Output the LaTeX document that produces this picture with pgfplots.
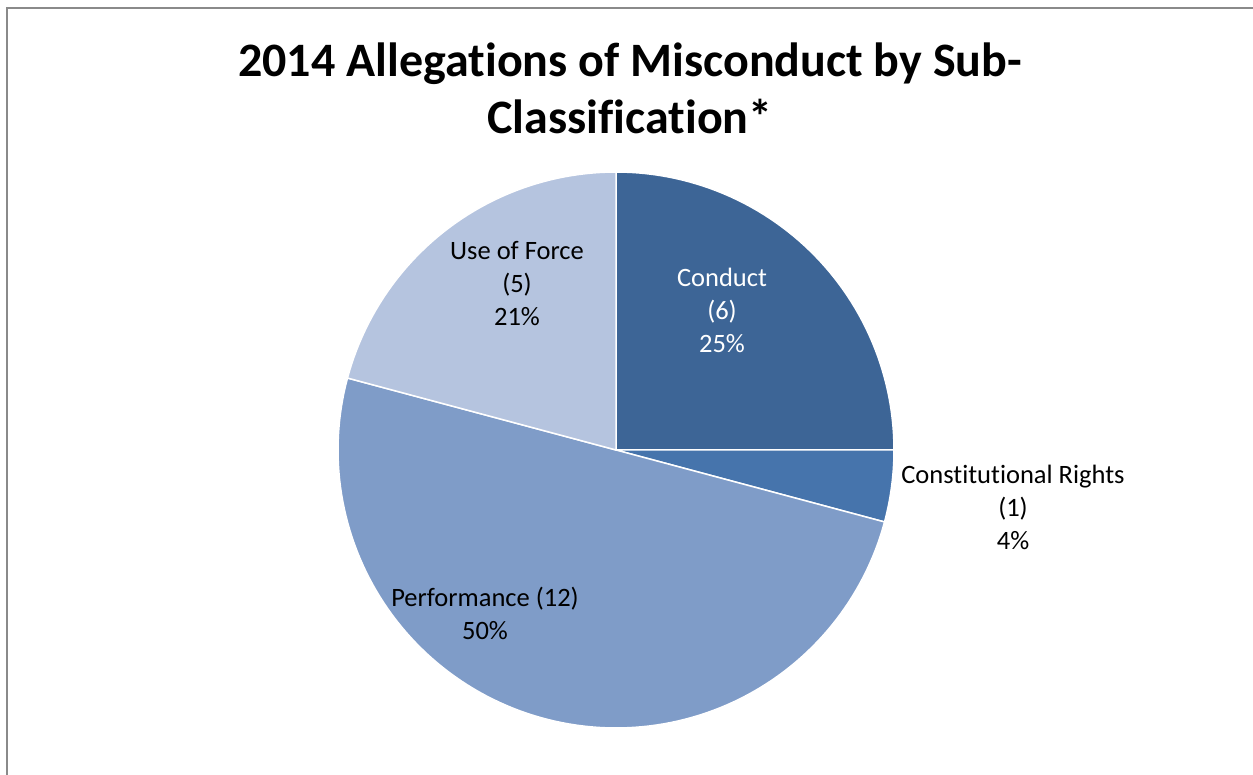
\documentclass[border=0pt]{standalone}
\usepackage{pgfplots}
\pgfplotsset{compat=1.18}
\usepackage{fontspec}
\setmainfont{Carlito}[Ligatures=NoCommon]

\definecolor{cConduct}{HTML}{3D6596}
\definecolor{cRights}{HTML}{4674AC}
\definecolor{cPerf}{HTML}{7F9CC8}
\definecolor{cForce}{HTML}{B5C4DF}
\definecolor{frame}{HTML}{8A8A8A}

\begin{document}
\begin{tikzpicture}
\begin{axis}[
    width=1253pt, height=775pt, scale only axis,
    xmin=0, xmax=1253, ymin=0, ymax=775,
    hide axis,
]
\coordinate (sw) at (rel axis cs:0,0);
\coordinate (ne) at (rel axis cs:1,1);
% chart frame
\draw[frame, line width=2pt] (7,0) -- (7,767) -- (1253,767);

% counts: Conduct 6, Constitutional Rights 1, Performance 12, Use of Force 5 (of 24)
% wedge angles (deg): 90, 15, 180, 75, clockwise from 12 o'clock
\addplot[draw=white, line width=1.5pt, fill=cConduct, domain=0:90, samples=60]
    ({616+278*cos(x)},{325+278*sin(x)}) -- (axis cs:616,325) -- cycle;
\addplot[draw=white, line width=1.5pt, fill=cRights, domain=-15:0, samples=15]
    ({616+278*cos(x)},{325+278*sin(x)}) -- (axis cs:616,325) -- cycle;
\addplot[draw=white, line width=1.5pt, fill=cPerf, domain=-195:-15, samples=120]
    ({616+278*cos(x)},{325+278*sin(x)}) -- (axis cs:616,325) -- cycle;
\addplot[draw=white, line width=1.5pt, fill=cForce, domain=90:165, samples=50]
    ({616+278*cos(x)},{325+278*sin(x)}) -- (axis cs:616,325) -- cycle;

% title
\node[align=center, font=\fontsize{48}{57}\selectfont\bfseries]
    at (630,687) {2014 Allegations of Misconduct by Sub-\\Classification*};

% data labels
\begin{scope}[every node/.style={align=center, font=\fontsize{26.5}{33}\selectfont}]
\node[text=white] at (722,465) {Conduct\\(6)\\25\%};
\node at (517,491) {Use of Force\\(5)\\21\%};
\node at (1013,268) {Constitutional Rights\\(1)\\4\%};
\node at (485,162) {Performance (12)\\50\%};
\end{scope}
\end{axis}
\pgfresetboundingbox
\path[use as bounding box] (sw) rectangle (ne);
\end{tikzpicture}
\end{document}
